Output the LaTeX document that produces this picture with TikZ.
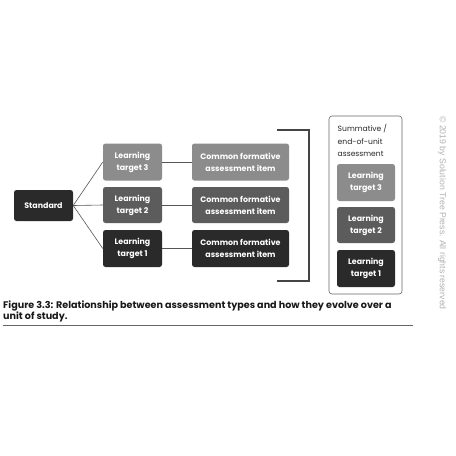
\documentclass[tikz,border=0pt]{standalone}
\usepackage{fontspec}
\setmainfont{Poppins}
\newfontfamily\copyfont{Liberation Sans}
\definecolor{lthree}{HTML}{8C8C8C}
\definecolor{ltwo}{HTML}{5C5C5C}
\definecolor{lone}{HTML}{2A2A2A}
\definecolor{stdc}{HTML}{2A2A2A}
\definecolor{linec}{HTML}{555555}
\definecolor{brk}{HTML}{444444}
\begin{document}
\begin{tikzpicture}[x=1pt,y=-1pt,
  box/.style={rounded corners=2.5pt, text=white, align=center, font=\fontsize{7.9}{12}\selectfont\bfseries, inner sep=0pt},
  conn/.style={draw=linec, line width=0.6pt}]
\useasboundingbox (0,0) rectangle (456,456);
\fill[white] (0,0) rectangle (456,456);
% Standard
\node[box, fill=stdc, minimum width=59pt, minimum height=31pt] (std) at (43.5,205.5) {Standard};
% learning targets
\node[box, fill=lthree, minimum width=59pt, minimum height=37pt] (lt3) at (132.5,162) {Learning\\target 3};
\node[box, fill=ltwo, minimum width=59pt, minimum height=36pt] (lt2) at (132.5,205) {Learning\\target 2};
\node[box, fill=lone, minimum width=59pt, minimum height=37pt] (lt1) at (132.5,248.5) {Learning\\target 1};
% CFA
\node[box, fill=lthree, minimum width=97pt, minimum height=37pt] (c3) at (240.5,162) {Common formative\\assessment item};
\node[box, fill=ltwo, minimum width=97pt, minimum height=36pt] (c2) at (240.5,205) {Common formative\\assessment item};
\node[box, fill=lone, minimum width=97pt, minimum height=37pt] (c1) at (240.5,248.5) {Common formative\\assessment item};
% connectors
\draw[conn] (std.east) -- (lt3.west);
\draw[conn] (std.east) -- (lt2.west);
\draw[conn] (std.east) -- (lt1.west);
\draw[conn] (lt3.east) -- (c3.west);
\draw[conn] (lt2.east) -- (c2.west);
\draw[conn] (lt1.east) -- (c1.west);
% bracket
\coordinate (bt) at (277,130);
\coordinate (bb) at (277,281);
\draw[brk, line width=1.8pt] (bt) -- (309,130) -- (309,281) -- (bb);
% summative box
\node[draw=black!60, line width=0.6pt, rounded corners=3pt, minimum width=73pt, minimum height=178pt, inner sep=0pt] (sum) at (365.5,205) {};
\node[anchor=north west, align=left, inner sep=0pt, font=\fontsize{7.6}{12.5}\selectfont, text=black!85] (sumt) at (337.5,124.5) {Summative /\\end-of-unit\\assessment};
\node[box, fill=lthree, minimum width=58pt, minimum height=37pt] (s3) at (366,182.5) {Learning\\target 3};
\node[box, fill=ltwo, minimum width=58pt, minimum height=36pt] (s2) at (366,225) {Learning\\target 2};
\node[box, fill=lone, minimum width=58pt, minimum height=37pt] (s1) at (366,268.5) {Learning\\target 1};
% caption
\node[anchor=north west, align=left, inner sep=0pt, font=\fontsize{9.6}{10}\selectfont\bfseries, text=black!90] (cap) at (3,300.5) {Figure 3.3: Relationship between assessment types and how they evolve over a\\unit of study.};
\coordinate (ul) at (3,325);
\coordinate (ur) at (413,325);
\draw[black!60, line width=0.8pt] (ul) -- (ur);
% copyright
\node[rotate=-90, inner sep=0pt, font=\copyfont\fontsize{8.7}{11}\selectfont, text=black!30] (copy) at (442,213) {© 2019 by Solution Tree Press. All rights reserved};
\end{tikzpicture}
\end{document}
